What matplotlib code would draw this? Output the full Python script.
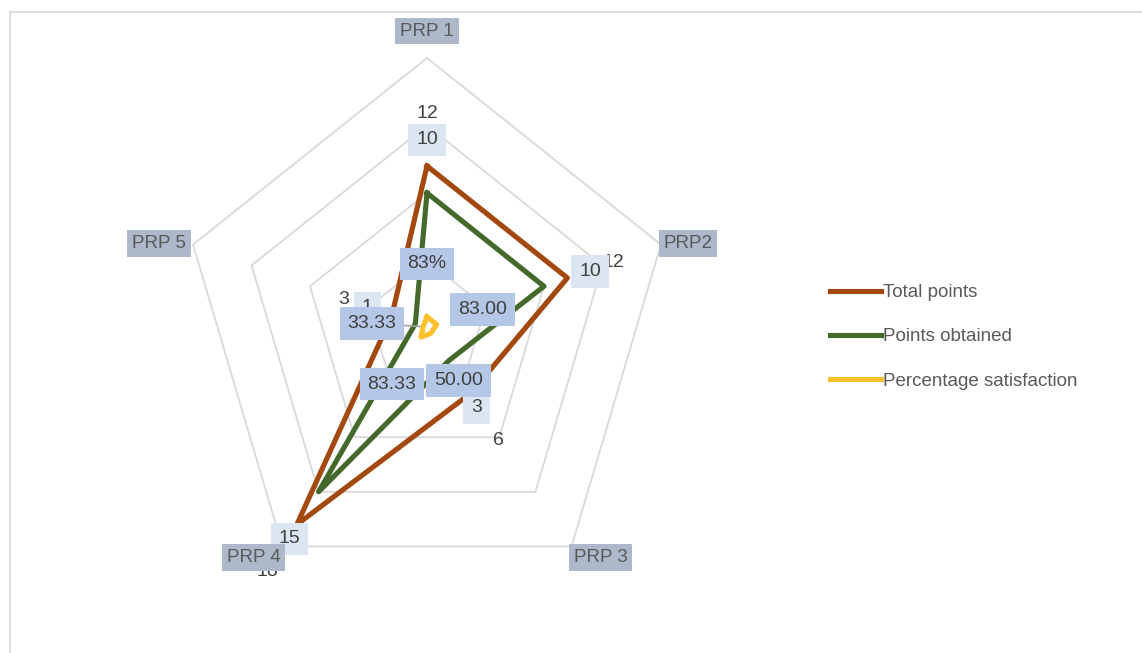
import numpy as np
import matplotlib.pyplot as plt
from matplotlib.lines import Line2D

plt.rcParams['font.family'] = ['Liberation Sans', 'DejaVu Sans']

# data
categories = ['PRP 1', 'PRP2', 'PRP 3', 'PRP 4', 'PRP 5']
total_points = [12, 12, 6, 18, 3]
points_obtained = [10, 10, 3, 15, 1]
pct_satisfaction = [0.83, 0.83, 0.50, 0.8333, 0.3333]
pct_labels = ['83%', '83.00', '50.00', '83.33', '33.33']
ring_levels = [5, 10, 15, 20]

c_total = '#a3480f'
c_obt = '#44692b'
c_pct = '#ffc12b'
txt = '#404040'
fs = 14

W, H = 1142, 653
fig = plt.figure(figsize=(W / 100, H / 100), dpi=100)
# centre at (427, 328) px, 12.3 px/unit horizontally, 13.5 px/unit vertically
ax = fig.add_axes([(427 - 22 * 12.3) / W, (H - 328 - 22 * 13.5) / H, 44 * 12.3 / W, 44 * 13.5 / H])
ax.set_xlim(-22, 22)
ax.set_ylim(-22, 22)
ax.axis('off')

theta = np.deg2rad(np.arange(len(categories)) * 72)


def xy(r):
    r = np.asarray(r, dtype=float)
    x = r * np.sin(theta)
    y = r * np.cos(theta)
    return np.append(x, x[0]), np.append(y, y[0])


# grid pentagons
for lv in ring_levels:
    gx, gy = xy([lv] * len(categories))
    ax.plot(gx, gy, color='#d9d9d9', lw=1.3, zorder=1)

lw = 3.7
ax.plot(*xy(total_points), color=c_total, lw=lw, zorder=3, label='Total points')
ax.plot(*xy(points_obtained), color=c_obt, lw=lw, zorder=4, label='Points obtained')
ax.plot(*xy(pct_satisfaction), color=c_pct, lw=lw, zorder=4.5, label='Percentage satisfaction')

# data labels (offsets in pixels)
offs = [(0, 53), (46, 15), (28, -47), (-29, -47), (-48, 16)]
tx, ty = xy(total_points)
ox, oy = xy(points_obtained)
px, py = xy(pct_satisfaction)
for i in range(len(categories)):
    ax.annotate(str(total_points[i]), (tx[i], ty[i]), xytext=offs[i], textcoords='offset pixels',
                ha='center', va='center', fontsize=fs, color=txt, zorder=5)
    ax.annotate(str(points_obtained[i]), (ox[i], oy[i]), xytext=offs[i], textcoords='offset pixels',
                ha='center', va='center', fontsize=fs, color=txt, zorder=6,
                bbox=dict(boxstyle='square,pad=0.4', fc='#dce6f2', ec='none'))
    if i == 4:
        ax.annotate(pct_labels[i], (px[i], py[i]), xytext=(-51, 3), textcoords='offset pixels',
                    ha='center', va='center', fontsize=fs, color=txt, zorder=7,
                    bbox=dict(boxstyle='square,pad=0.4', fc='#b4c7e7', ec='none'),
                    arrowprops=dict(arrowstyle='-', color='#a6a6a6', lw=1.2, shrinkA=0, shrinkB=2))
    else:
        ax.annotate(pct_labels[i], (px[i], py[i]), xytext=offs[i], textcoords='offset pixels',
                    ha='center', va='center', fontsize=fs, color=txt, zorder=7,
                    bbox=dict(boxstyle='square,pad=0.4', fc='#b4c7e7', ec='none'))

# category labels
cat_offs = [(0, 27), (27, 1), (29, -11), (-29, -11), (-34, 1)]
vx, vy = xy([ring_levels[-1]] * len(categories))
for i, c in enumerate(categories):
    ax.annotate(c, (vx[i], vy[i]), xytext=cat_offs[i], textcoords='offset pixels',
                ha='center', va='center', fontsize=fs - 0.5, color='#595959', zorder=8,
                bbox=dict(boxstyle='square,pad=0.25', fc='#adb9ca', ec='none'))

leg = fig.legend(loc='upper left', bbox_to_anchor=(830 / W, 1 - 284 / H), frameon=False,
                 fontsize=13.5, handlelength=2.7, handletextpad=0.15, labelspacing=1.45,
                 borderpad=0, borderaxespad=0)
for t in leg.get_texts():
    t.set_color('#595959')

# chart area border (top and left edges visible)
fig.add_artist(Line2D([10 / W, 10 / W], [0, 1 - 12 / H], transform=fig.transFigure, color='#d9d9d9', lw=1.2))
fig.add_artist(Line2D([10 / W, 1], [1 - 12 / H, 1 - 12 / H], transform=fig.transFigure, color='#d9d9d9', lw=1.2))

fig.savefig('out.png', dpi=100)
